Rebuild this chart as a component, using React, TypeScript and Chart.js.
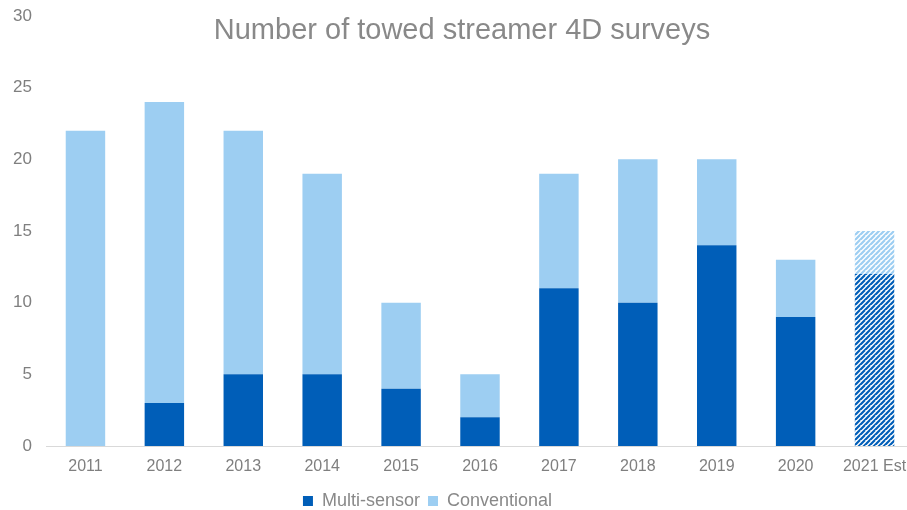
import React, { useEffect, useRef } from "react";
import { Chart, registerables } from "chart.js";

Chart.register(...registerables);

const categories = ["2011", "2012", "2013", "2014", "2015", "2016", "2017", "2018", "2019", "2020", "2021 Est"];
const multiSensor = [0, 3, 5, 5, 4, 2, 11, 10, 14, 9, 12];
const conventional = [22, 21, 17, 14, 6, 3, 8, 10, 6, 4, 3];
const estimateIndex = 10;
const titleText = "Number of towed streamer 4D surveys";

const DARK = "#005EB8";
const LIGHT = "#9DCEF2";
const FONT = "'Liberation Sans', Arial, sans-serif";

function makeHatch(color: string): CanvasPattern | string {
  const s = 5;
  const c = document.createElement("canvas");
  c.width = s;
  c.height = s;
  const ctx = c.getContext("2d");
  if (!ctx) return color;
  ctx.fillStyle = "#ffffff";
  ctx.fillRect(0, 0, s, s);
  ctx.strokeStyle = color;
  ctx.lineWidth = 2.2;
  ctx.beginPath();
  for (let k = -1; k <= 2; k++) {
    ctx.moveTo(k * s - s, s + s);
    ctx.lineTo(k * s + s, -s + s);
  }
  ctx.stroke();
  const p = ctx.createPattern(c, "repeat");
  return p || color;
}

export default function App() {
  const ref = useRef<HTMLCanvasElement | null>(null);

  useEffect(() => {
    if (!ref.current) return;
    const darkHatch = makeHatch(DARK);
    const lightHatch = makeHatch(LIGHT);

    const titlePlugin = {
      id: "overlayTitle",
      afterDraw(chart: any) {
        const ctx = chart.ctx;
        ctx.save();
        ctx.font = `29px ${FONT}`;
        ctx.fillStyle = "#898989";
        ctx.textAlign = "center";
        ctx.textBaseline = "middle";
        ctx.fillText(titleText, 462, 31);
        ctx.restore();
      },
    };

    const layoutTweak = {
      id: "layoutTweak",
      afterLayout(chart: any) {
        const lg = chart.legend;
        if (lg) {
          lg.left = 0 - 26;
          lg.right = 907 - 26;
        }
        const xs = chart.scales.x;
        if (xs) {
          const newRight = 914;
          xs.right = newRight;
          xs.width = newRight - xs.left;
          xs.configure();
          chart.chartArea.right = newRight;
          chart.chartArea.width = newRight - chart.chartArea.left;
        }
      },
    };

    const chart = new Chart(ref.current, {
      type: "bar",
      data: {
        labels: categories,
        datasets: [
          {
            label: "Multi-sensor",
            data: multiSensor,
            backgroundColor: (c: any) => (c.dataIndex === estimateIndex ? darkHatch : DARK),
            barPercentage: 0.5,
            categoryPercentage: 1,
          },
          {
            label: "Conventional",
            data: conventional,
            backgroundColor: (c: any) => (c.dataIndex === estimateIndex ? lightHatch : LIGHT),
            barPercentage: 0.5,
            categoryPercentage: 1,
          },
        ],
      },
      options: {
        animation: false,
        responsive: true,
        maintainAspectRatio: false,
        layout: { padding: { top: 16, right: 0, left: 0, bottom: -10 } },
        plugins: {
          title: { display: false },
          tooltip: { enabled: false },
          legend: {
            position: "bottom",
            labels: {
              boxWidth: 10,
              boxHeight: 10,
              color: "#898989",
              font: { family: FONT, size: 18 },
              padding: 8,
            },
          },
        },
        scales: {
          x: {
            stacked: true,
            grid: { display: false, drawTicks: false },
            border: { display: true, color: "#d9d9d9", width: 1 },
            ticks: {
              color: "#7f7f7f",
              font: { family: FONT, size: 16 },
              padding: 11,
              maxRotation: 0,
              autoSkip: false,
            },
            afterFit(scale: any) {
              scale.height = 38;
              scale.paddingLeft = 0;
              scale.paddingRight = 0;
            },
          },
          y: {
            stacked: true,
            min: 0,
            max: 30,
            grid: { display: false, drawTicks: false },
            border: { display: false },
            ticks: {
              stepSize: 5,
              color: "#7f7f7f",
              font: { family: FONT, size: 17 },
              padding: 14,
            },
            afterFit(scale: any) {
              scale.width = 46;
              scale.paddingTop = 0;
              scale.paddingBottom = 0;
            },
          },
        },
      },
      plugins: [titlePlugin, layoutTweak],
    } as any);

    return () => chart.destroy();
  }, []);

  return (
    <div style={{ position: "fixed", left: 0, top: 0, width: 907, height: 510, background: "#fff" }}>
      <canvas ref={ref} />
    </div>
  );
}
